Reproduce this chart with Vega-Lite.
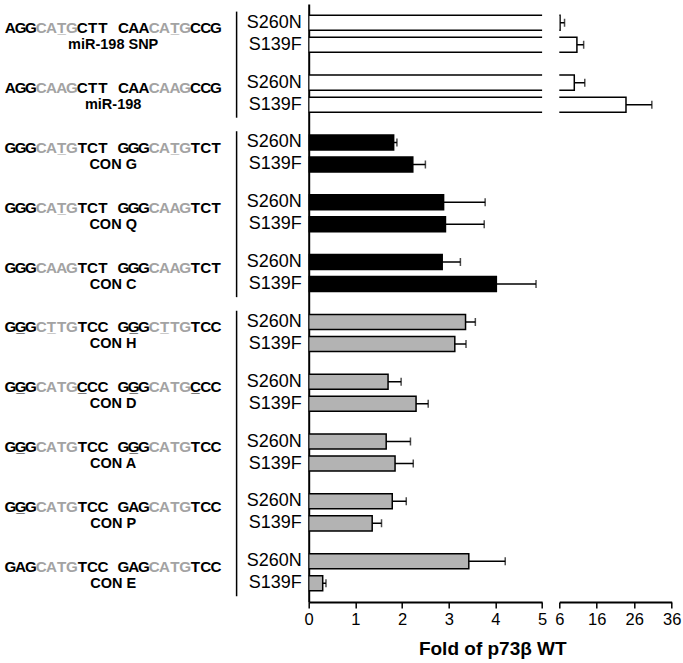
{
  "$schema": "https://vega.github.io/schema/vega-lite/v6.json",
  "padding": {"left": 0, "top": 4, "right": 5, "bottom": 0},
  "bounds": "flush",
  "spacing": 71.7,
  "config": {
    "view": {"stroke": null},
    "font": "Liberation Sans",
    "axis": {"labelFont": "Liberation Sans", "labelFontSize": 16.5, "labelColor": "black", "tickColor": "black", "domainColor": "black", "tickWidth": 1.5, "domainWidth": 2, "tickSize": 6, "labelPadding": 3, "grid": false, "labelFlush": false}
  },
  "datasets": {
    "bars": [
      {"g": "miR-198 SNP", "m": "S260N", "set": "miR-198", "v": 6.2, "hi": 7.4},
      {"g": "miR-198 SNP", "m": "S139F", "set": "miR-198", "v": 10.7, "hi": 12.5},
      {"g": "miR-198", "m": "S260N", "set": "miR-198", "v": 10.0, "hi": 12.8},
      {"g": "miR-198", "m": "S139F", "set": "miR-198", "v": 23.8, "hi": 30.7},
      {"g": "CON G", "m": "S260N", "set": "CON G-C", "v": 1.82, "hi": 1.89},
      {"g": "CON G", "m": "S139F", "set": "CON G-C", "v": 2.23, "hi": 2.50},
      {"g": "CON Q", "m": "S260N", "set": "CON G-C", "v": 2.89, "hi": 3.78},
      {"g": "CON Q", "m": "S139F", "set": "CON G-C", "v": 2.93, "hi": 3.76},
      {"g": "CON C", "m": "S260N", "set": "CON G-C", "v": 2.86, "hi": 3.25},
      {"g": "CON C", "m": "S139F", "set": "CON G-C", "v": 4.02, "hi": 4.87},
      {"g": "CON H", "m": "S260N", "set": "CON H-E", "v": 3.36, "hi": 3.57},
      {"g": "CON H", "m": "S139F", "set": "CON H-E", "v": 3.13, "hi": 3.37},
      {"g": "CON D", "m": "S260N", "set": "CON H-E", "v": 1.70, "hi": 1.98},
      {"g": "CON D", "m": "S139F", "set": "CON H-E", "v": 2.30, "hi": 2.56},
      {"g": "CON A", "m": "S260N", "set": "CON H-E", "v": 1.66, "hi": 2.18},
      {"g": "CON A", "m": "S139F", "set": "CON H-E", "v": 1.85, "hi": 2.24},
      {"g": "CON P", "m": "S260N", "set": "CON H-E", "v": 1.79, "hi": 2.09},
      {"g": "CON P", "m": "S139F", "set": "CON H-E", "v": 1.36, "hi": 1.56},
      {"g": "CON E", "m": "S260N", "set": "CON H-E", "v": 3.43, "hi": 4.21},
      {"g": "CON E", "m": "S139F", "set": "CON H-E", "v": 0.30, "hi": 0.37}
    ],
    "sets": [
      {"set": "miR-198", "from": "miR-198 SNP", "to": "miR-198"},
      {"set": "CON G-C", "from": "CON G", "to": "CON C"},
      {"set": "CON H-E", "from": "CON H", "to": "CON E"}
    ],
    "chars": [
      {"g":"miR-198 SNP","i":0,"b":"A","p":"flank"},{"g":"miR-198 SNP","i":1,"b":"G","p":"flank"},{"g":"miR-198 SNP","i":2,"b":"G","p":"flank"},{"g":"miR-198 SNP","i":3,"b":"C","p":"core"},{"g":"miR-198 SNP","i":4,"b":"A","p":"core"},{"g":"miR-198 SNP","i":5,"b":"T","p":"core","u":1},{"g":"miR-198 SNP","i":6,"b":"G","p":"core"},{"g":"miR-198 SNP","i":7,"b":"C","p":"flank"},{"g":"miR-198 SNP","i":8,"b":"T","p":"flank"},{"g":"miR-198 SNP","i":9,"b":"T","p":"flank"},
      {"g":"miR-198 SNP","i":11,"b":"C","p":"flank"},{"g":"miR-198 SNP","i":12,"b":"A","p":"flank"},{"g":"miR-198 SNP","i":13,"b":"A","p":"flank"},{"g":"miR-198 SNP","i":14,"b":"C","p":"core"},{"g":"miR-198 SNP","i":15,"b":"A","p":"core"},{"g":"miR-198 SNP","i":16,"b":"T","p":"core","u":1},{"g":"miR-198 SNP","i":17,"b":"G","p":"core"},{"g":"miR-198 SNP","i":18,"b":"C","p":"flank"},{"g":"miR-198 SNP","i":19,"b":"C","p":"flank"},{"g":"miR-198 SNP","i":20,"b":"G","p":"flank"},

      {"g":"miR-198","i":0,"b":"A","p":"flank"},{"g":"miR-198","i":1,"b":"G","p":"flank"},{"g":"miR-198","i":2,"b":"G","p":"flank"},{"g":"miR-198","i":3,"b":"C","p":"core"},{"g":"miR-198","i":4,"b":"A","p":"core"},{"g":"miR-198","i":5,"b":"A","p":"core"},{"g":"miR-198","i":6,"b":"G","p":"core"},{"g":"miR-198","i":7,"b":"C","p":"flank"},{"g":"miR-198","i":8,"b":"T","p":"flank"},{"g":"miR-198","i":9,"b":"T","p":"flank"},
      {"g":"miR-198","i":11,"b":"C","p":"flank"},{"g":"miR-198","i":12,"b":"A","p":"flank"},{"g":"miR-198","i":13,"b":"A","p":"flank"},{"g":"miR-198","i":14,"b":"C","p":"core"},{"g":"miR-198","i":15,"b":"A","p":"core"},{"g":"miR-198","i":16,"b":"A","p":"core"},{"g":"miR-198","i":17,"b":"G","p":"core"},{"g":"miR-198","i":18,"b":"C","p":"flank"},{"g":"miR-198","i":19,"b":"C","p":"flank"},{"g":"miR-198","i":20,"b":"G","p":"flank"},

      {"g":"CON G","i":0,"b":"G","p":"flank"},{"g":"CON G","i":1,"b":"G","p":"flank"},{"g":"CON G","i":2,"b":"G","p":"flank"},{"g":"CON G","i":3,"b":"C","p":"core"},{"g":"CON G","i":4,"b":"A","p":"core"},{"g":"CON G","i":5,"b":"T","p":"core","u":1},{"g":"CON G","i":6,"b":"G","p":"core"},{"g":"CON G","i":7,"b":"T","p":"flank"},{"g":"CON G","i":8,"b":"C","p":"flank"},{"g":"CON G","i":9,"b":"T","p":"flank"},
      {"g":"CON G","i":11,"b":"G","p":"flank"},{"g":"CON G","i":12,"b":"G","p":"flank"},{"g":"CON G","i":13,"b":"G","p":"flank"},{"g":"CON G","i":14,"b":"C","p":"core"},{"g":"CON G","i":15,"b":"A","p":"core"},{"g":"CON G","i":16,"b":"T","p":"core","u":1},{"g":"CON G","i":17,"b":"G","p":"core"},{"g":"CON G","i":18,"b":"T","p":"flank"},{"g":"CON G","i":19,"b":"C","p":"flank"},{"g":"CON G","i":20,"b":"T","p":"flank"},

      {"g":"CON Q","i":0,"b":"G","p":"flank"},{"g":"CON Q","i":1,"b":"G","p":"flank"},{"g":"CON Q","i":2,"b":"G","p":"flank"},{"g":"CON Q","i":3,"b":"C","p":"core"},{"g":"CON Q","i":4,"b":"A","p":"core"},{"g":"CON Q","i":5,"b":"T","p":"core","u":1},{"g":"CON Q","i":6,"b":"G","p":"core"},{"g":"CON Q","i":7,"b":"T","p":"flank"},{"g":"CON Q","i":8,"b":"C","p":"flank"},{"g":"CON Q","i":9,"b":"T","p":"flank"},
      {"g":"CON Q","i":11,"b":"G","p":"flank"},{"g":"CON Q","i":12,"b":"G","p":"flank"},{"g":"CON Q","i":13,"b":"G","p":"flank"},{"g":"CON Q","i":14,"b":"C","p":"core"},{"g":"CON Q","i":15,"b":"A","p":"core"},{"g":"CON Q","i":16,"b":"A","p":"core"},{"g":"CON Q","i":17,"b":"G","p":"core"},{"g":"CON Q","i":18,"b":"T","p":"flank"},{"g":"CON Q","i":19,"b":"C","p":"flank"},{"g":"CON Q","i":20,"b":"T","p":"flank"},

      {"g":"CON C","i":0,"b":"G","p":"flank"},{"g":"CON C","i":1,"b":"G","p":"flank"},{"g":"CON C","i":2,"b":"G","p":"flank"},{"g":"CON C","i":3,"b":"C","p":"core"},{"g":"CON C","i":4,"b":"A","p":"core"},{"g":"CON C","i":5,"b":"A","p":"core"},{"g":"CON C","i":6,"b":"G","p":"core"},{"g":"CON C","i":7,"b":"T","p":"flank"},{"g":"CON C","i":8,"b":"C","p":"flank"},{"g":"CON C","i":9,"b":"T","p":"flank"},
      {"g":"CON C","i":11,"b":"G","p":"flank"},{"g":"CON C","i":12,"b":"G","p":"flank"},{"g":"CON C","i":13,"b":"G","p":"flank"},{"g":"CON C","i":14,"b":"C","p":"core"},{"g":"CON C","i":15,"b":"A","p":"core"},{"g":"CON C","i":16,"b":"A","p":"core"},{"g":"CON C","i":17,"b":"G","p":"core"},{"g":"CON C","i":18,"b":"T","p":"flank"},{"g":"CON C","i":19,"b":"C","p":"flank"},{"g":"CON C","i":20,"b":"T","p":"flank"},

      {"g":"CON H","i":0,"b":"G","p":"flank"},{"g":"CON H","i":1,"b":"G","p":"flank","u":1},{"g":"CON H","i":2,"b":"G","p":"flank"},{"g":"CON H","i":3,"b":"C","p":"core"},{"g":"CON H","i":4,"b":"T","p":"core","u":1},{"g":"CON H","i":5,"b":"T","p":"core"},{"g":"CON H","i":6,"b":"G","p":"core"},{"g":"CON H","i":7,"b":"T","p":"flank"},{"g":"CON H","i":8,"b":"C","p":"flank"},{"g":"CON H","i":9,"b":"C","p":"flank"},
      {"g":"CON H","i":11,"b":"G","p":"flank"},{"g":"CON H","i":12,"b":"G","p":"flank","u":1},{"g":"CON H","i":13,"b":"G","p":"flank"},{"g":"CON H","i":14,"b":"C","p":"core"},{"g":"CON H","i":15,"b":"T","p":"core","u":1},{"g":"CON H","i":16,"b":"T","p":"core"},{"g":"CON H","i":17,"b":"G","p":"core"},{"g":"CON H","i":18,"b":"T","p":"flank"},{"g":"CON H","i":19,"b":"C","p":"flank"},{"g":"CON H","i":20,"b":"C","p":"flank"},

      {"g":"CON D","i":0,"b":"G","p":"flank"},{"g":"CON D","i":1,"b":"G","p":"flank","u":1},{"g":"CON D","i":2,"b":"G","p":"flank"},{"g":"CON D","i":3,"b":"C","p":"core"},{"g":"CON D","i":4,"b":"A","p":"core"},{"g":"CON D","i":5,"b":"T","p":"core"},{"g":"CON D","i":6,"b":"G","p":"core"},{"g":"CON D","i":7,"b":"C","p":"flank","u":1},{"g":"CON D","i":8,"b":"C","p":"flank"},{"g":"CON D","i":9,"b":"C","p":"flank"},
      {"g":"CON D","i":11,"b":"G","p":"flank"},{"g":"CON D","i":12,"b":"G","p":"flank","u":1},{"g":"CON D","i":13,"b":"G","p":"flank"},{"g":"CON D","i":14,"b":"C","p":"core"},{"g":"CON D","i":15,"b":"A","p":"core"},{"g":"CON D","i":16,"b":"T","p":"core"},{"g":"CON D","i":17,"b":"G","p":"core"},{"g":"CON D","i":18,"b":"C","p":"flank","u":1},{"g":"CON D","i":19,"b":"C","p":"flank"},{"g":"CON D","i":20,"b":"C","p":"flank"},

      {"g":"CON A","i":0,"b":"G","p":"flank"},{"g":"CON A","i":1,"b":"G","p":"flank","u":1},{"g":"CON A","i":2,"b":"G","p":"flank"},{"g":"CON A","i":3,"b":"C","p":"core"},{"g":"CON A","i":4,"b":"A","p":"core"},{"g":"CON A","i":5,"b":"T","p":"core"},{"g":"CON A","i":6,"b":"G","p":"core"},{"g":"CON A","i":7,"b":"T","p":"flank"},{"g":"CON A","i":8,"b":"C","p":"flank"},{"g":"CON A","i":9,"b":"C","p":"flank"},
      {"g":"CON A","i":11,"b":"G","p":"flank"},{"g":"CON A","i":12,"b":"G","p":"flank","u":1},{"g":"CON A","i":13,"b":"G","p":"flank"},{"g":"CON A","i":14,"b":"C","p":"core"},{"g":"CON A","i":15,"b":"A","p":"core"},{"g":"CON A","i":16,"b":"T","p":"core"},{"g":"CON A","i":17,"b":"G","p":"core"},{"g":"CON A","i":18,"b":"T","p":"flank"},{"g":"CON A","i":19,"b":"C","p":"flank"},{"g":"CON A","i":20,"b":"C","p":"flank"},

      {"g":"CON P","i":0,"b":"G","p":"flank"},{"g":"CON P","i":1,"b":"G","p":"flank","u":1},{"g":"CON P","i":2,"b":"G","p":"flank"},{"g":"CON P","i":3,"b":"C","p":"core"},{"g":"CON P","i":4,"b":"A","p":"core"},{"g":"CON P","i":5,"b":"T","p":"core"},{"g":"CON P","i":6,"b":"G","p":"core"},{"g":"CON P","i":7,"b":"T","p":"flank"},{"g":"CON P","i":8,"b":"C","p":"flank"},{"g":"CON P","i":9,"b":"C","p":"flank"},
      {"g":"CON P","i":11,"b":"G","p":"flank"},{"g":"CON P","i":12,"b":"A","p":"flank"},{"g":"CON P","i":13,"b":"G","p":"flank"},{"g":"CON P","i":14,"b":"C","p":"core"},{"g":"CON P","i":15,"b":"A","p":"core"},{"g":"CON P","i":16,"b":"T","p":"core"},{"g":"CON P","i":17,"b":"G","p":"core"},{"g":"CON P","i":18,"b":"T","p":"flank"},{"g":"CON P","i":19,"b":"C","p":"flank"},{"g":"CON P","i":20,"b":"C","p":"flank"},

      {"g":"CON E","i":0,"b":"G","p":"flank"},{"g":"CON E","i":1,"b":"A","p":"flank"},{"g":"CON E","i":2,"b":"G","p":"flank"},{"g":"CON E","i":3,"b":"C","p":"core"},{"g":"CON E","i":4,"b":"A","p":"core"},{"g":"CON E","i":5,"b":"T","p":"core"},{"g":"CON E","i":6,"b":"G","p":"core"},{"g":"CON E","i":7,"b":"T","p":"flank"},{"g":"CON E","i":8,"b":"C","p":"flank"},{"g":"CON E","i":9,"b":"C","p":"flank"},
      {"g":"CON E","i":11,"b":"G","p":"flank"},{"g":"CON E","i":12,"b":"A","p":"flank"},{"g":"CON E","i":13,"b":"G","p":"flank"},{"g":"CON E","i":14,"b":"C","p":"core"},{"g":"CON E","i":15,"b":"A","p":"core"},{"g":"CON E","i":16,"b":"T","p":"core"},{"g":"CON E","i":17,"b":"G","p":"core"},{"g":"CON E","i":18,"b":"T","p":"flank"},{"g":"CON E","i":19,"b":"C","p":"flank"},{"g":"CON E","i":20,"b":"C","p":"flank"}
    ]
  },
  "resolve": {"scale": {"x": "independent", "y": "independent"}},
  "hconcat": [
    {
      "width": 236.6,
      "height": 598,
      "layer": [
        {
          "data": {"name": "chars"},
          "mark": {"type": "text", "fontWeight": "bold", "fontSize": 15.2, "baseline": "middle", "dy": -5.5},
          "encoding": {
            "x": {"field": "i", "type": "quantitative", "scale": {"domain": [-1, 22]}, "axis": null},
            "y": {"field": "g", "type": "nominal", "scale": {"domain": ["miR-198 SNP", "miR-198", "CON G", "CON Q", "CON C", "CON H", "CON D", "CON A", "CON P", "CON E"], "paddingInner": 0.381, "paddingOuter": 0.189}, "axis": null},
            "text": {"field": "b"},
            "color": {"field": "p", "type": "nominal", "scale": {"domain": ["flank", "core"], "range": ["#000000", "#a3a3a3"]}, "legend": null}
          }
        },
        {
          "data": {"name": "chars"},
          "transform": [{"filter": "datum.u == 1"}],
          "mark": {"type": "text", "text": "_", "fontWeight": "bold", "fontSize": 15.2, "baseline": "middle", "dy": -5.5},
          "encoding": {
            "x": {"field": "i", "type": "quantitative", "scale": {"domain": [-1, 22]}, "axis": null},
            "y": {"field": "g", "type": "nominal", "scale": {"domain": ["miR-198 SNP", "miR-198", "CON G", "CON Q", "CON C", "CON H", "CON D", "CON A", "CON P", "CON E"], "paddingInner": 0.381, "paddingOuter": 0.189}, "axis": null},
            "color": {"field": "p", "type": "nominal", "scale": {"domain": ["flank", "core"], "range": ["#000000", "#a3a3a3"]}, "legend": null}
          }
        },
        {
          "data": {"name": "bars"},
          "transform": [{"filter": "datum.m == 'S260N'"}],
          "mark": {"type": "text", "fontWeight": "bold", "fontSize": 14.5, "baseline": "middle", "dy": 11.5, "color": "black"},
          "encoding": {
            "x": {"datum": 10, "type": "quantitative", "scale": {"domain": [-1, 22]}, "axis": null},
            "y": {"field": "g", "type": "nominal", "scale": {"domain": ["miR-198 SNP", "miR-198", "CON G", "CON Q", "CON C", "CON H", "CON D", "CON A", "CON P", "CON E"], "paddingInner": 0.381, "paddingOuter": 0.189}, "axis": null},
            "text": {"field": "g"}
          }
        },
        {
          "data": {"name": "sets"},
          "mark": {"type": "rule", "strokeWidth": 1.5, "color": "black"},
          "encoding": {
            "x": {"datum": 22, "type": "quantitative", "scale": {"domain": [-1, 22]}, "axis": null},
            "y": {"field": "from", "type": "nominal", "bandPosition": -0.1, "scale": {"domain": ["miR-198 SNP", "miR-198", "CON G", "CON Q", "CON C", "CON H", "CON D", "CON A", "CON P", "CON E"], "paddingInner": 0.381, "paddingOuter": 0.189}, "axis": null},
            "y2": {"field": "to", "bandPosition": 1.15}
          }
        }
      ]
    },
    {
      "spacing": 16.6,
      "bounds": "flush",
      "resolve": {"scale": {"x": "independent", "y": "independent"}},
      "title": {"text": "Fold of p73β WT", "orient": "bottom", "anchor": "middle", "fontSize": 19, "fontWeight": "bold", "font": "Liberation Sans", "color": "black", "offset": 12, "dx": 29},
      "hconcat": [
        {
          "width": 233.4,
          "height": 598,
          "data": {"name": "bars"},
          "encoding": {
            "y": {"field": "g", "type": "nominal", "scale": {"domain": ["miR-198 SNP", "miR-198", "CON G", "CON Q", "CON C", "CON H", "CON D", "CON A", "CON P", "CON E"], "paddingInner": 0.381, "paddingOuter": 0.189}, "axis": {"labels": false, "ticks": false, "domain": true, "title": null}},
            "yOffset": {"field": "m", "type": "nominal", "scale": {"domain": ["S260N", "S139F"], "paddingInner": 0.318, "paddingOuter": 0}}
          },
          "layer": [
            {
              "mark": {"type": "bar", "clip": true, "stroke": "black", "strokeWidth": 1.5},
              "encoding": {
                "x": {"field": "v", "type": "quantitative", "scale": {"domain": [0, 5]}, "axis": {"values": [0, 1, 2, 3, 4, 5], "title": null}},
                "fill": {"field": "set", "type": "nominal", "scale": {"domain": ["miR-198", "CON G-C", "CON H-E"], "range": ["#ffffff", "#000000", "#b3b3b3"]}, "legend": null}
              }
            },
            {
              "mark": {"type": "rule", "clip": true, "strokeWidth": 1.5, "color": "black"},
              "encoding": {
                "x": {"field": "v", "type": "quantitative", "scale": {"domain": [0, 5]}, "axis": {"values": [0, 1, 2, 3, 4, 5], "title": null}},
                "x2": {"field": "hi"}
              }
            },
            {
              "mark": {"type": "tick", "clip": true, "thickness": 1.5, "size": 8, "color": "black"},
              "encoding": {
                "x": {"field": "hi", "type": "quantitative", "scale": {"domain": [0, 5]}, "axis": {"values": [0, 1, 2, 3, 4, 5], "title": null}}
              }
            },
            {
              "mark": {"type": "text", "align": "right", "dx": -7, "baseline": "middle", "fontSize": 18, "color": "black"},
              "encoding": {
                "x": {"datum": 0, "type": "quantitative", "scale": {"domain": [0, 5]}, "axis": {"values": [0, 1, 2, 3, 4, 5], "title": null}},
                "text": {"field": "m"}
              }
            }
          ]
        },
        {
          "width": 112.4,
          "height": 598,
          "data": {"name": "bars"},
          "encoding": {
            "y": {"field": "g", "type": "nominal", "scale": {"domain": ["miR-198 SNP", "miR-198", "CON G", "CON Q", "CON C", "CON H", "CON D", "CON A", "CON P", "CON E"], "paddingInner": 0.381, "paddingOuter": 0.189}, "axis": null},
            "yOffset": {"field": "m", "type": "nominal", "scale": {"domain": ["S260N", "S139F"], "paddingInner": 0.318, "paddingOuter": 0}}
          },
          "layer": [
            {
              "mark": {"type": "bar", "clip": true, "stroke": "black", "strokeWidth": 1.5},
              "encoding": {
                "x": {"field": "v", "type": "quantitative", "scale": {"domain": [6, 36]}, "axis": {"values": [6, 16, 26, 36], "title": null}},
                "fill": {"field": "set", "type": "nominal", "scale": {"domain": ["miR-198", "CON G-C", "CON H-E"], "range": ["#ffffff", "#000000", "#b3b3b3"]}, "legend": null}
              }
            },
            {
              "mark": {"type": "rule", "clip": true, "strokeWidth": 1.5, "color": "black"},
              "encoding": {
                "x": {"field": "v", "type": "quantitative", "scale": {"domain": [6, 36]}, "axis": {"values": [6, 16, 26, 36], "title": null}},
                "x2": {"field": "hi"}
              }
            },
            {
              "mark": {"type": "tick", "clip": true, "thickness": 1.5, "size": 8, "color": "black"},
              "encoding": {
                "x": {"field": "hi", "type": "quantitative", "scale": {"domain": [6, 36]}, "axis": {"values": [6, 16, 26, 36], "title": null}}
              }
            }
          ]
        }
      ]
    }
  ]
}
